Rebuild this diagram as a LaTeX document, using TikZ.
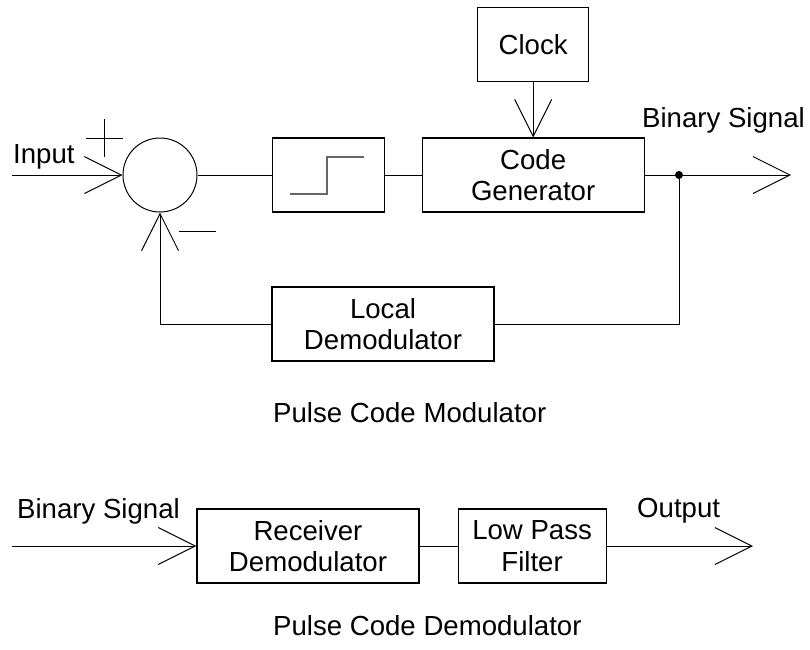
\documentclass[tikz,border=0pt]{standalone}
\usepackage{fontspec}
\setmainfont{Liberation Sans}
\usetikzlibrary{arrows.meta, positioning}

\begin{document}
\begin{tikzpicture}[
x=1pt, y=-1pt,
font=\fontsize{27.6}{31.5}\selectfont,
blk/.style={rectangle, draw, line width=1.1pt, align=center, inner sep=0pt, minimum width=222pt, minimum height=74pt},
sum/.style={circle, draw, line width=1pt, inner sep=0pt, minimum size=74pt},
lbl/.style={anchor=base west, inner sep=0pt},
arr/.style={-{Straight Barb[length=37pt, width=37pt]}, line width=1pt},
wire/.style={line width=1pt}
]
\useasboundingbox (0,0) rectangle (810,649);

% Pulse Code Modulator
\node[sum] (sum) at (160,175) {};
\node[blk, minimum width=112pt, right=74pt of sum] (quant) {};
\node[blk, right=37pt of quant] (codegen) {Code\\Generator};
\node[blk, minimum width=111pt, above=55pt of codegen] (clock) {Clock};
\node[blk] (localdemod) at (383,324) {Local\\Demodulator};
\coordinate (inp) at (12,175);
\coordinate (tap) at (679,175);
\coordinate (binout) at (791,175);
\node[lbl] (inlabel) at (13,163) {Input};
\node[lbl] (binlabel) at (642,127) {Binary Signal};
\node[lbl] (pcm) at (273,422) {Pulse Code Modulator};

\draw[arr] (inp) -- (sum.west);
\draw[wire] (sum.east) -- (quant.west);
\draw[wire] (quant.east) -- (codegen.west);
\draw[arr] (clock.south) -- (codegen.north);
\draw[wire] (codegen.east) -- (tap);
\draw[arr] (tap) -- (binout);
\fill (tap) circle (4pt);
\draw[wire] (tap) |- (localdemod.east);
\draw[arr] (localdemod.west) -| (sum.south);

% signs and step symbol
\draw[wire] (86,138) -- (123,138) (104,119) -- (104,157);
\draw[wire] (179,231) -- (216,231);
\draw[line width=1.5pt, black!60] (290,194) -- ++(37,0) -- ++(0,-37) -- ++(37,0);

% Pulse Code Demodulator
\node[blk] (recv) at (308,546) {Receiver\\Demodulator};
\node[blk, minimum width=148pt, right=38pt of recv] (lpf) {Low Pass\\Filter};
\coordinate (binin) at (12,546);
\coordinate (outp) at (753,546);
\node[lbl] (binlabel2) at (17,518) {Binary Signal};
\node[lbl] (outlabel) at (637,517) {Output};
\node[lbl] (pcd) at (273,635) {Pulse Code Demodulator};

\draw[arr] (binin) -- (recv.west);
\draw[wire] (recv.east) -- (lpf.west);
\draw[arr] (lpf.east) -- (outp);
\end{tikzpicture}
\end{document}
